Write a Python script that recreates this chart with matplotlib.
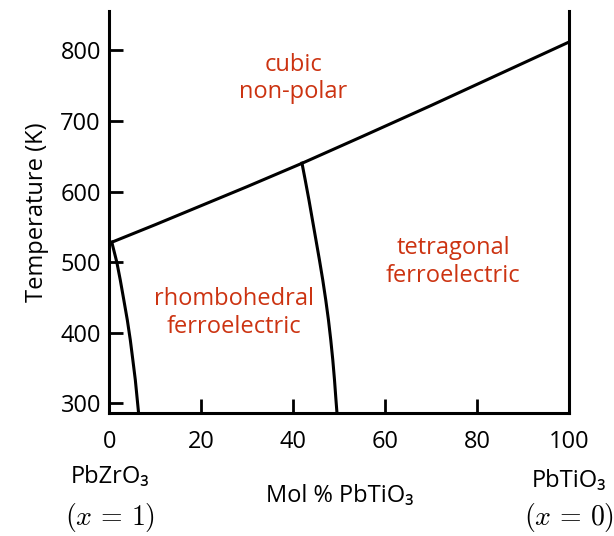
import matplotlib
matplotlib.use("Agg")
import matplotlib.pyplot as plt

# ------------------------ Data ------------------------
# upper boundary: cubic -> ferroelectric (Curie line)
curie_x = [0.5, 10, 20, 30, 41.9, 55, 70, 85, 100]
curie_t = [528, 553, 580, 607, 640, 678, 722, 767, 812]

# left boundary (rhombohedral edge near PbZrO3)
left_x = [0.54, 1.63, 2.39, 3.16, 3.92, 4.57, 5.12, 5.66, 6.09, 6.37]
left_t = [528.3, 500, 474.5, 446.2, 417.8, 389.5, 361.2, 332.9, 304.5, 286]

# morphotropic boundary (rhombohedral / tetragonal)
mpb_x = [41.9, 42.61, 43.42, 44.18, 44.94, 45.70, 46.42, 47.07, 47.66,
         48.16, 48.60, 48.97, 49.29, 49.51]
mpb_t = [640.2, 616.1, 587.8, 559.5, 531.2, 502.8, 474.5, 446.2, 417.8,
         389.5, 361.2, 332.9, 304.5, 286]

x_ticks = [0, 20, 40, 60, 80, 100]
y_ticks = [300, 400, 500, 600, 700, 800]

# phase labels: (text, x, T)
phase_labels = [
    ("cubic\nnon-polar", 40, 760),
    ("tetragonal\nferroelectric", 74.8, 500),
    ("rhombohedral\nferroelectric", 27.1, 428),
]

# ------------------------ Style ------------------------
plt.rcParams['font.family'] = ['Open Sans', 'DejaVu Sans']
plt.rcParams['mathtext.fontset'] = 'cm'
red = '#cc3311'
lw = 2.2
fs = 17

fig = plt.figure(figsize=(6.14, 5.36), dpi=100)
ax = fig.add_axes([0.178, 0.229, 0.749, 0.750])

ax.plot(curie_x, curie_t, color='black', lw=lw, solid_joinstyle='round')
ax.plot(left_x, left_t, color='black', lw=lw, solid_joinstyle='round')
ax.plot(mpb_x, mpb_t, color='black', lw=lw, solid_joinstyle='round')

for txt, x, t in phase_labels:
    ax.text(x, t, txt, color=red, fontsize=fs, ha='center', va='center',
            linespacing=1.2)

ax.set_xlim(0, 100)
ax.set_ylim(285.7, 855.5)
ax.set_xticks(x_ticks)
ax.set_yticks(y_ticks)
ax.tick_params(axis='both', direction='in', length=10, width=2, labelsize=fs)
ax.tick_params(axis='x', pad=12)
ax.tick_params(axis='y', pad=6)

ax.spines['top'].set_visible(False)
for s in ['left', 'right', 'bottom']:
    ax.spines[s].set_linewidth(lw)

ax.set_ylabel("Temperature (K)", fontsize=fs, labelpad=8)

# composition end-member labels below the axis
fig.text(0.179, 0.110, "PbZrO₃", fontsize=fs, ha='center', va='center')
fig.text(0.179, 0.034, r"$(x\,=\,1)$", fontsize=20, ha='center', va='center')
fig.text(0.927, 0.103, "PbTiO₃", fontsize=fs, ha='center', va='center')
fig.text(0.927, 0.034, r"$(x\,=\,0)$", fontsize=20, ha='center', va='center')
fig.text(0.554, 0.074, "Mol % PbTiO₃", fontsize=fs, ha='center', va='center')

plt.savefig("out.png", dpi=100)
